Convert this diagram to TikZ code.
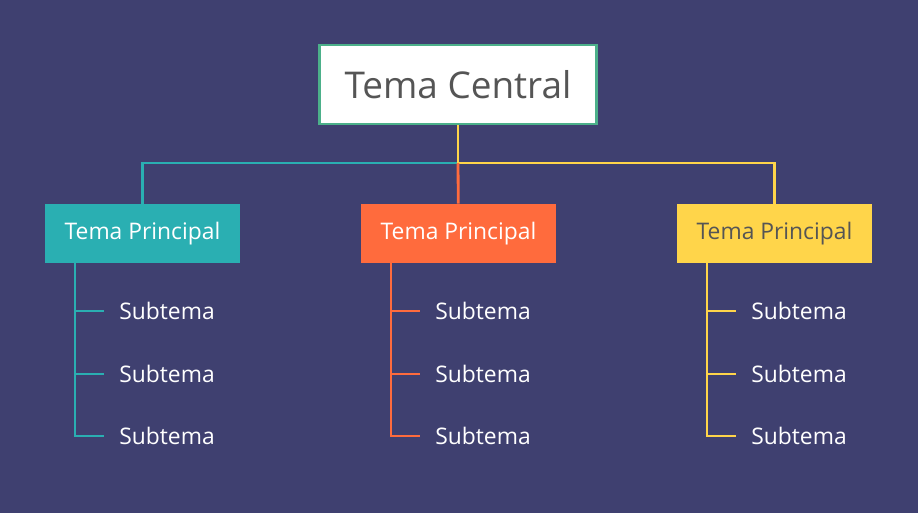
\documentclass[tikz,border=0pt]{standalone}
\usepackage{fontspec}
\setmainfont{Open Sans}
\usetikzlibrary{positioning}
\definecolor{bgblue}{HTML}{3F4070}
\definecolor{tealc}{HTML}{2AAFB2}
\definecolor{orangec}{HTML}{FF6B3D}
\definecolor{yellowc}{HTML}{FFD54A}
\definecolor{greenc}{HTML}{4CB08A}
\definecolor{textgray}{HTML}{555555}
\tikzset{
    topicbox/.style = {minimum width = 3.9cm, minimum height = 1.18cm, inner sep = 0, font = \fontsize{13}{15}\selectfont},
    subtext/.style = {anchor = west, text = white, inner sep = 0, font = \fontsize{13}{15}\selectfont},
    link/.style = {line width = 1.6pt}
}
\begin{document}
\begin{tikzpicture}[x = 0.02cm, y = -0.02cm]
        \fill[bgblue] (0,0) rectangle (918,513);
        \node[draw = greenc, fill = white, line width = 1.3pt, minimum width = 5.54cm, minimum height = 1.58cm, inner sep = 0,
              text = textgray, font = \fontsize{21}{25}\selectfont] (central) at (458,84.5) {Tema Central};
        \node[topicbox, fill = tealc, text = white] (left) at (142.5,233.5) {Tema Principal};
        \node[topicbox, fill = orangec, text = white] (mid) at (458.5,233.5) {Tema Principal};
        \node[topicbox, fill = yellowc, text = textgray] (right) at (774.5,233.5) {Tema Principal};
        \coordinate (hub) at (458,163);
        \draw[link, tealc] (hub) -| (left);
        \draw[link, yellowc] (hub) -| (right);
        \draw[link, yellowc] (central) -- (hub);
        \draw[link, orangec] (hub) -- (mid);
        % subtemas
        \foreach \col/\x/\name in {tealc/75/left, orangec/391/mid, yellowc/707/right} {
            \draw[link, \col] (\x,263) -- (\x,436) -- (\x+29,436);
            \foreach \y/\i in {311/1, 374/2, 436/3} {
                \node[subtext] (\name sub\i) at (\x+44,\y) {Subtema};
                \draw[link, \col] (\x,\y) -- ([xshift = -15*0.02cm]\name sub\i.west);
            }
        }
    \end{tikzpicture}
\end{document}
